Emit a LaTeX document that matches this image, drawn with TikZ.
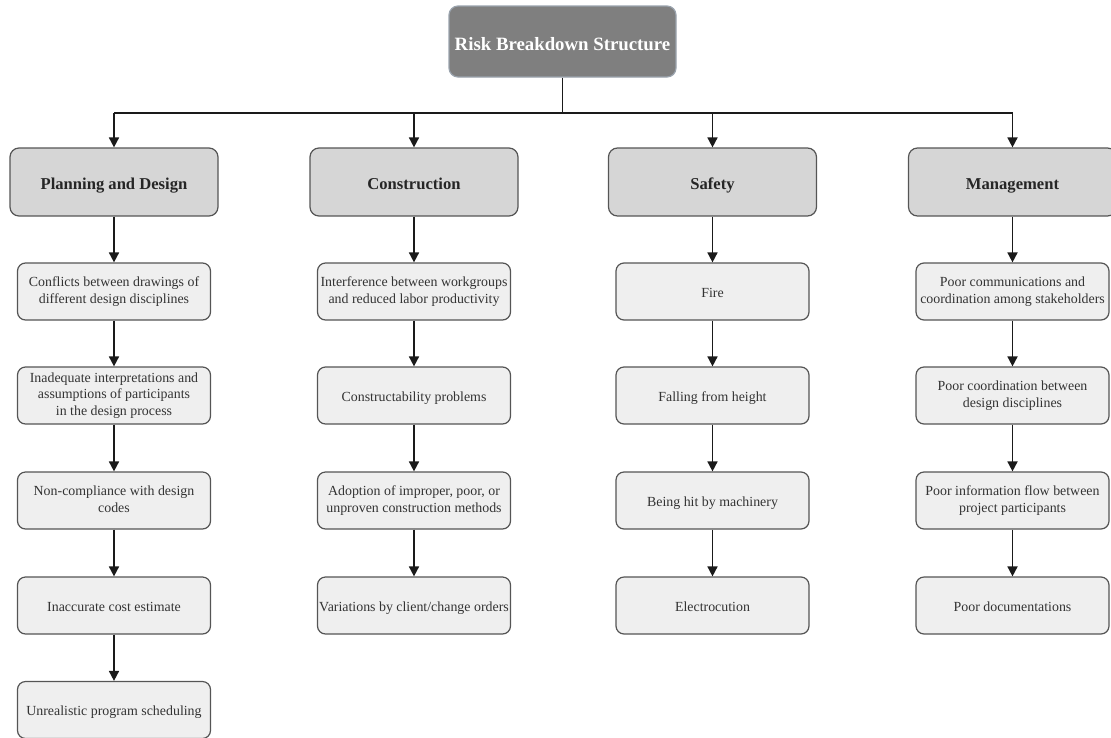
\documentclass[tikz,border=0pt]{standalone}
\usepackage{fontspec}
\setmainfont{Liberation Serif}
\usetikzlibrary{arrows.meta}
\definecolor{topfill}{HTML}{7F7F7F}
\definecolor{topdraw}{HTML}{9AA3AD}
\definecolor{headfill}{HTML}{D6D6D6}
\definecolor{leaffill}{HTML}{EFEFEF}
\definecolor{boxdraw}{HTML}{555555}
\definecolor{linecol}{HTML}{1A1A1A}
\newcommand{\topstrut}{\rule{0pt}{14pt}}
\newcommand{\botstrut}{\rule[-3pt]{0pt}{3pt}}
\tikzset{
  topbox/.style={draw=topdraw, line width=1.2pt, fill=topfill, rounded corners=9pt,
    minimum width=227pt, minimum height=71pt, inner sep=0pt, text=white,
    text height=17pt, text depth=0pt,
    font=\fontsize{18.8}{22}\selectfont\bfseries},
  headbox/.style={draw=boxdraw, line width=1.2pt, fill=headfill, rounded corners=9pt,
    minimum width=208pt, minimum height=68pt, inner sep=0pt, text=black!85,
    text height=14pt, text depth=0pt,
    font=\fontsize{16.6}{19}\selectfont\bfseries},
  leafbox/.style={draw=boxdraw, line width=1.2pt, fill=leaffill, rounded corners=8pt,
    minimum width=193pt, minimum height=57pt, inner sep=0pt, align=center, text=black!80,
    execute at begin node={\topstrut}, execute at end node={\botstrut},
    font=\fontsize{13.9}{16.7}\selectfont},
  conn/.style={draw=linecol, line width=1.7pt},
  arr/.style={conn, -{Triangle[length=10pt,width=10pt]}},
}
\begin{document}
\begin{tikzpicture}[x=1pt,y=-1pt]
\useasboundingbox (0,0) rectangle (1111,737);
% top
\node[topbox] (top) at (562.5,41.5) {Risk Breakdown Structure};
\coordinate (bus) at (562.5,113);
% headers
\node[headbox] (h1) at (114,182) {Planning and Design};
\node[headbox] (h2) at (414,182) {Construction};
\node[headbox] (h3) at (712.5,182) {Safety};
\node[headbox] (h4) at (1012.5,182) {Management};
\coordinate (b1) at (114,113);
\coordinate (b2) at (414,113);
\coordinate (b3) at (712.5,113);
\coordinate (b4) at (1012.5,113);
\draw[conn] (top.south) -- (bus);
\draw[conn] (b1) -- (b4);
\foreach \i in {1,2,3,4} {\draw[arr] (b\i) -- (h\i.north);}
% column 1
\node[leafbox] (p1) at (114,291.5) {Conflicts between drawings of\\different design disciplines};
\node[leafbox] (p2) at (114,395.5) {Inadequate interpretations and\\assumptions of participants\\in the design process};
\node[leafbox] (p3) at (114,500.5) {Non-compliance with design\\codes};
\node[leafbox] (p4) at (114,605.5) {Inaccurate cost estimate};
\node[leafbox] (p5) at (114,710) {Unrealistic program scheduling};
% column 2
\node[leafbox] (c1) at (414,291.5) {Interference between workgroups\\and reduced labor productivity};
\node[leafbox] (c2) at (414,395.5) {Constructability problems};
\node[leafbox] (c3) at (414,500.5) {Adoption of improper, poor, or\\unproven construction methods};
\node[leafbox] (c4) at (414,605.5) {Variations by client/change orders};
% column 3
\node[leafbox] (s1) at (712.5,291.5) {Fire};
\node[leafbox] (s2) at (712.5,395.5) {Falling from height};
\node[leafbox] (s3) at (712.5,500.5) {Being hit by machinery};
\node[leafbox] (s4) at (712.5,605.5) {Electrocution};
% column 4
\node[leafbox] (m1) at (1012.5,291.5) {Poor communications and\\coordination among stakeholders};
\node[leafbox] (m2) at (1012.5,395.5) {Poor coordination between\\design disciplines};
\node[leafbox] (m3) at (1012.5,500.5) {Poor information flow between\\project participants};
\node[leafbox] (m4) at (1012.5,605.5) {Poor documentations};
% arrows
\draw[arr] (h1.south) -- (p1.north);
\draw[arr] (p1.south) -- (p2.north);
\draw[arr] (p2.south) -- (p3.north);
\draw[arr] (p3.south) -- (p4.north);
\draw[arr] (p4.south) -- (p5.north);
\draw[arr] (h2.south) -- (c1.north);
\draw[arr] (c1.south) -- (c2.north);
\draw[arr] (c2.south) -- (c3.north);
\draw[arr] (c3.south) -- (c4.north);
\draw[arr] (h3.south) -- (s1.north);
\draw[arr] (s1.south) -- (s2.north);
\draw[arr] (s2.south) -- (s3.north);
\draw[arr] (s3.south) -- (s4.north);
\draw[arr] (h4.south) -- (m1.north);
\draw[arr] (m1.south) -- (m2.north);
\draw[arr] (m2.south) -- (m3.north);
\draw[arr] (m3.south) -- (m4.north);
\end{tikzpicture}
\end{document}
